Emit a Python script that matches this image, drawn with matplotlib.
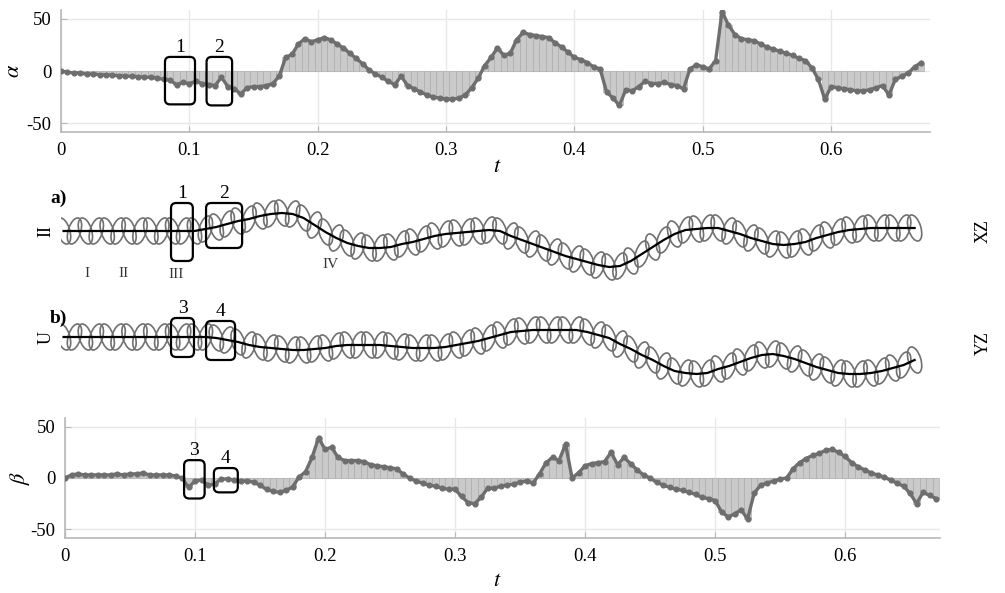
import numpy as np
import matplotlib.pyplot as plt
from matplotlib.collections import EllipseCollection
from matplotlib.patches import FancyBboxPatch

plt.rcParams['font.family'] = ['Liberation Serif', 'DejaVu Serif']
plt.rcParams['mathtext.fontset'] = 'stix'
plt.rcParams['axes.unicode_minus'] = False

# ---- data ----
# angle alpha, sampled every 0.005 in t (0 ... 0.670)
alpha = [0, -1, -2, -2, -3, -3, -3.5, -4, -4, -4.5,
         -5, -5, -5.5, -6, -6, -7, -8, -9, -13, -11,
         -12, -10, -12, -13, -14, -6, -15, -17, -22, -16,
         -15, -15, -14, -12, -5, 13, 16, 26, 31, 28,
         30, 32, 30, 26, 22, 17, 12, 7, 1, -3,
         -6, -10, -13, -5, -14, -17, -20, -23, -25, -26,
         -27, -27, -26, -23, -16, -7, 5, 13, 22, 15,
         17, 30, 37, 35, 34, 33, 32, 27, 23, 18,
         13, 11, 8, 4, 2, -20, -26, -33, -18, -19,
         -15, -10, -12, -12, -11, -13, -14, -17, 2, 6,
         4, 2, 10, 57, 44, 35, 31, 30, 29, 26,
         23, 21, 19, 17, 15, 12, 10, 3, -8, -27,
         -15, -16, -17, -18, -19, -19, -18, -16, -14, -23,
         -8, -5, -2, 4, 8]

# angle beta, same sampling
beta = [0, 3, 4, 3, 3, 3, 3, 3, 4, 3,
        4, 4, 5, 3, 3, 3, 3, 2, 0, -9,
        -3, -2, -7, -6, -1, -1, -2, -3, -3, -4,
        -7, -11, -13, -14, -12, -9, 1, 6, 20, 39,
        28, 30, 20, 17, 17, 17, 16, 13, 12, 11,
        10, 9, 4, 0, -3, -5, -7, -8, -10, -11,
        -11, -18, -24, -25, -19, -10, -10, -8, -7, -6,
        -4, -3, -5, 4, 15, 20, 17, 33, 0, 5,
        12, 14, 15, 16, 25, 13, 20, 14, 8, 3,
        0, -4, -7, -9, -11, -12, -14, -16, -19, -20,
        -22, -33, -38, -35, -31, -40, -15, -7, -5, -3,
        -1, 0, 9, 15, 19, 22, 24, 27, 28, 25,
        21, 15, 11, 8, 5, 3, 1, -2, -5, -8,
        -15, -25, -14, -17, -20]

t_step = 0.005
t_bars = np.arange(len(alpha)) * t_step

# centre lines of the two ribbons (px offset from start level), every 0.0085 in t
chain_xz = [0, 0, 0, 0, 0, 0, 0, 0, 0, 0,
            0, 0, 0, 2, 4, 7, 10, 12, 15, 17,
            18, 17, 13, 6, -1, -7, -12, -15, -17, -17,
            -16, -13, -11, -8, -5, -3, -2, -1, 0, 1,
            0, -5, -9, -13, -17, -21, -25, -28, -31, -34,
            -36, -35, -30, -23, -16, -9, -3, 1, 2, 3,
            3, 0, -3, -7, -10, -13, -14, -13, -11, -7,
            -4, -1, 1, 2, 3, 3, 3, 3, 3]
chain_yz = [0, 0, 0, 0, 0, 0, 0, 0, 0, 0,
            0, 0, 0, 0, -1, -3, -5, -8, -10, -11,
            -12, -13, -13, -12, -11, -9, -8, -8, -8, -8,
            -9, -10, -11, -11, -11, -10, -8, -6, -4, -1,
            2, 5, 6, 7, 7, 7, 7, 7, 5, 2,
            -1, -7, -12, -18, -23, -29, -34, -36, -37, -36,
            -32, -29, -25, -21, -18, -17, -19, -22, -26, -30,
            -33, -36, -37, -37, -36, -34, -31, -28, -23]
t_chain = 0.002 + np.arange(len(chain_xz)) * 0.0085

# marked windows: (t0, t1, low, high, label)
alpha_boxes = [(0.081, 0.1044, -32, 13.5, '1'), (0.1134, 0.1333, -33, 13.5, '2')]
beta_boxes = [(0.0916, 0.1074, -20, 17.4, '3'), (0.1145, 0.1329, -14, 9.7, '4')]
xz_boxes = [(0.0857, 0.1027, -30, 28, '1'), (0.1130, 0.1411, -17, 28, '2')]
yz_boxes = [(0.0857, 0.1036, -20, 19, '3'), (0.1130, 0.1356, -23, 16, '4')]
xz_marks = [(0.020, 'I'), (0.049, 'II'), (0.090, 'III'), (0.210, 'IV')]
xz_marks_y = [-36, -36, -37, -27]

W, H = 1005, 593
fig = plt.figure(figsize=(W / 100, H / 100), dpi=100)


def frac(left, top, right, bottom):
    return [left / W, 1 - bottom / H, (right - left) / W, (bottom - top) / H]


GREY = '#b8b8b8'


def style_axes(ax):
    for s in ['top', 'right']:
        ax.spines[s].set_visible(False)
    for s in ['left', 'bottom']:
        ax.spines[s].set_color(GREY)
        ax.spines[s].set_linewidth(1.2)
    ax.tick_params(direction='in', length=4, color=GREY, labelsize=13.5, pad=7)
    ax.grid(True, color='#e8e8e8', linewidth=1)
    ax.set_axisbelow(True)
    ax.set_yticks([-50, 0, 50])
    ax.set_xticks([0, 0.1, 0.2, 0.3, 0.4, 0.5, 0.6])
    ax.set_xticklabels(['0', '0.1', '0.2', '0.3', '0.4', '0.5', '0.6'])


def add_boxes(ax, boxes, aspect, label_dy):
    for t0, t1, lo, hi, lab in boxes:
        ax.add_patch(FancyBboxPatch((t0, lo), t1 - t0, hi - lo,
                                    boxstyle='round,pad=0,rounding_size=0.004',
                                    mutation_aspect=aspect, fill=False,
                                    edgecolor='black', linewidth=1.6, zorder=5))
        ax.text((t0 + t1) / 2, hi + label_dy, lab, ha='center', va='bottom',
                fontsize=14, zorder=6)


def signal_panel(ax, values, xmax, aspect, boxes, ylabel):
    ax.bar(t_bars, values, width=t_step, color='#cacaca', edgecolor='#a4a4a4',
           linewidth=0.4, zorder=2)
    ax.plot(t_bars, values, color='#6e6e6e', linewidth=2.4, marker='o',
            markersize=3.4, zorder=3)
    ax.set_xlim(0, xmax)
    ax.set_ylim(-58.5, 58.5)
    style_axes(ax)
    add_boxes(ax, boxes, aspect, 1)
    ax.set_ylabel(ylabel, fontsize=16, rotation=90)
    ax.set_xlabel('$t$', fontsize=16)


# ---- alpha ----
ax_a = fig.add_axes(frac(61, 10, 930, 132))
signal_panel(ax_a, alpha, 0.677, 1200, alpha_boxes, r'$\alpha$')
ax_a.yaxis.set_label_coords(-0.043, 0.5)
ax_a.xaxis.set_label_coords(0.502, -0.21)

# ---- beta ----
ax_b = fig.add_axes(frac(65, 418, 940, 538))
signal_panel(ax_b, beta, 0.673, 1260, beta_boxes, r'$\beta$')
ax_b.yaxis.set_label_coords(-0.038, 0.5)
ax_b.xaxis.set_label_coords(0.494, -0.28)


# ---- ribbons ----
def ribbon_panel(ax, centre, ylim, boxes):
    ax.set_xlim(0, 0.677)
    ax.set_ylim(*ylim)
    ax.axis('off')
    n = len(centre)
    angles = np.where(np.arange(n) % 2 == 0, 17, -17)
    offsets = np.column_stack([t_chain, centre])
    ec = EllipseCollection(np.full(n, 12.5), np.full(n, 27), angles, units='dots',
                           offsets=offsets, offset_transform=ax.transData,
                           facecolors='none', edgecolors='#707070', linewidths=1.2)
    ax.add_collection(ec)
    ax.plot(t_chain, centre, color='black', linewidth=1.6, zorder=4)
    add_boxes(ax, boxes, 1283, 1)


ax_xz = fig.add_axes(frac(61, 185, 930, 285))
ribbon_panel(ax_xz, chain_xz, (-54, 46), xz_boxes)
for (tm, lab), ym in zip(xz_marks, xz_marks_y):
    ax_xz.text(tm, ym, lab, ha='center', va='top', fontsize=11, color='#333333')

ax_yz = fig.add_axes(frac(61, 295, 930, 395))
ribbon_panel(ax_yz, chain_yz, (-58, 42), yz_boxes)

fig.text(50 / W, 1 - 198 / H, 'a)', fontsize=14, fontweight='bold', ha='left', va='center')
fig.text(50 / W, 1 - 318 / H, 'b)', fontsize=14, fontweight='bold', ha='left', va='center')
fig.text(46 / W, 1 - 231 / H, 'II', fontsize=13, rotation=90, ha='center', va='center')
fig.text(46 / W, 1 - 337 / H, 'U', fontsize=13, rotation=90, ha='center', va='center')
fig.text(983 / W, 1 - 231 / H, 'XZ', fontsize=13, rotation=90, ha='center', va='center')
fig.text(983 / W, 1 - 343 / H, 'YZ', fontsize=13, rotation=90, ha='center', va='center')

fig.savefig('out.png', dpi=100)
